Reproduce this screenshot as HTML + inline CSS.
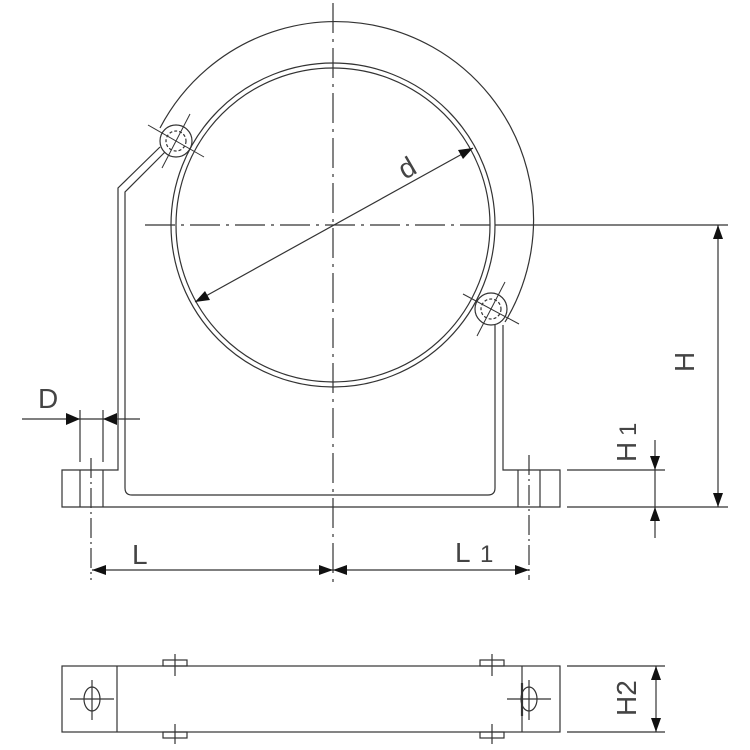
<!DOCTYPE html>
<html><head><style>html,body{margin:0;padding:0;background:#fff}svg{display:block}</style></head>
<body>
<svg width="750" height="750" viewBox="0 0 750 750" xmlns="http://www.w3.org/2000/svg" font-family="Liberation Sans, sans-serif">
<g fill="none" stroke="#333" stroke-width="1.2">
<line x1="333" y1="3" x2="333" y2="585" stroke-dasharray="30,6,3,6"/>
<line x1="145" y1="225" x2="495" y2="225" stroke-dasharray="30,6,3,6"/>
<line x1="495" y1="225" x2="728" y2="225"/>
<circle cx="333" cy="225" r="162"/>
<circle cx="333" cy="225" r="157"/>
<path d="M160,128 A198,198 0 1 1 505,322"/>
<circle cx="176" cy="141" r="16"/>
<circle cx="176" cy="141" r="10" stroke-dasharray="3,2"/>
<line x1="148" y1="125" x2="204" y2="157" stroke-width="1"/>
<line x1="190" y1="114" x2="162" y2="168" stroke-width="1"/>
<circle cx="491" cy="309" r="16"/>
<circle cx="491" cy="309" r="10" stroke-dasharray="3,2"/>
<line x1="463" y1="294" x2="519" y2="324" stroke-width="1"/>
<line x1="505" y1="282" x2="477" y2="336" stroke-width="1"/>
<polyline points="160,147 118,188 118,470 62,470 62,507 560,507 560,470 503,470 503,325"/>
<path d="M165,152 L125,192 L125,488 Q125,495 132,495 L488,495 Q495,495 495,488 L495,325"/>
<line x1="80" y1="470" x2="80" y2="507"/>
<line x1="103" y1="470" x2="103" y2="507"/>
<line x1="518" y1="470" x2="518" y2="507"/>
<line x1="540" y1="470" x2="540" y2="507"/>
<line x1="91" y1="458" x2="91" y2="580" stroke-dasharray="20,4,2,4"/>
<line x1="529" y1="455" x2="529" y2="580" stroke-dasharray="20,4,2,4"/>
<line x1="80" y1="410" x2="80" y2="462"/>
<line x1="103" y1="410" x2="103" y2="462"/>
<line x1="22" y1="419" x2="140" y2="419"/>
<line x1="92" y1="570" x2="529" y2="570"/>
<line x1="567" y1="507" x2="728" y2="507"/>
<line x1="567" y1="470" x2="665" y2="470"/>
<line x1="718" y1="225" x2="718" y2="507"/>
<line x1="655" y1="440" x2="655" y2="538"/>
<line x1="195" y1="302" x2="473" y2="148"/>
<rect x="62" y="666" width="498" height="66"/>
<line x1="117" y1="666" x2="117" y2="732"/>
<line x1="522" y1="666" x2="522" y2="732"/>
<ellipse cx="92" cy="699" rx="8" ry="12"/>
<line x1="70" y1="699" x2="114" y2="699"/><line x1="92" y1="680" x2="92" y2="720"/>
<ellipse cx="529" cy="699" rx="8" ry="12"/>
<line x1="507" y1="699" x2="551" y2="699"/><line x1="529" y1="680" x2="529" y2="720"/>
<line x1="522" y1="683" x2="522" y2="716" stroke-width="2.2"/>
<rect x="163" y="660" width="24" height="6"/><line x1="175" y1="654" x2="175" y2="676"/>
<rect x="163" y="732" width="24" height="6"/><line x1="175" y1="724" x2="175" y2="744"/>
<rect x="480" y="660" width="24" height="6"/><line x1="492" y1="654" x2="492" y2="676"/>
<rect x="480" y="732" width="24" height="6"/><line x1="492" y1="724" x2="492" y2="744"/>
<line x1="567" y1="666" x2="665" y2="666"/>
<line x1="567" y1="732" x2="665" y2="732"/>
<line x1="656" y1="666" x2="656" y2="732"/>
</g>
<g fill="#111">
<!-- D -->
<polygon points="80,419 66,413 66,425"/>
<polygon points="103,419 117,413 117,425"/>
<!-- L -->
<polygon points="92,570 106,565 106,575"/>
<polygon points="333,570 319,565 319,575"/>
<polygon points="333,570 347,565 347,575"/>
<polygon points="529,570 515,565 515,575"/>
<!-- H -->
<polygon points="718,225 713,239 723,239"/>
<polygon points="718,507 713,493 723,493"/>
<!-- H1 -->
<polygon points="655,470 650,456 660,456"/>
<polygon points="655,507 650,521 660,521"/>
<!-- H2 -->
<polygon points="656,666 651,680 661,680"/>
<polygon points="656,732 651,718 661,718"/>
<!-- d -->
<polygon points="195,302 210,300 205,291"/>
<polygon points="473,148 463,159 458,150"/>
</g>
<g fill="#444" font-size="28">
<text x="38" y="408">D</text>
<text x="132" y="564">L</text>
<text x="455" y="562">L</text><text x="480" y="562" font-size="24">1</text>
<text transform="translate(405,180) rotate(-30)" font-size="28">d</text>
<text transform="translate(694,372) rotate(-90)">H</text>
<text transform="translate(636,462) rotate(-90)">H</text>
<text transform="translate(636,436) rotate(-90)" font-size="24">1</text>
<text transform="translate(636,716) rotate(-90)">H2</text>
</g>
</svg>
</body></html>
